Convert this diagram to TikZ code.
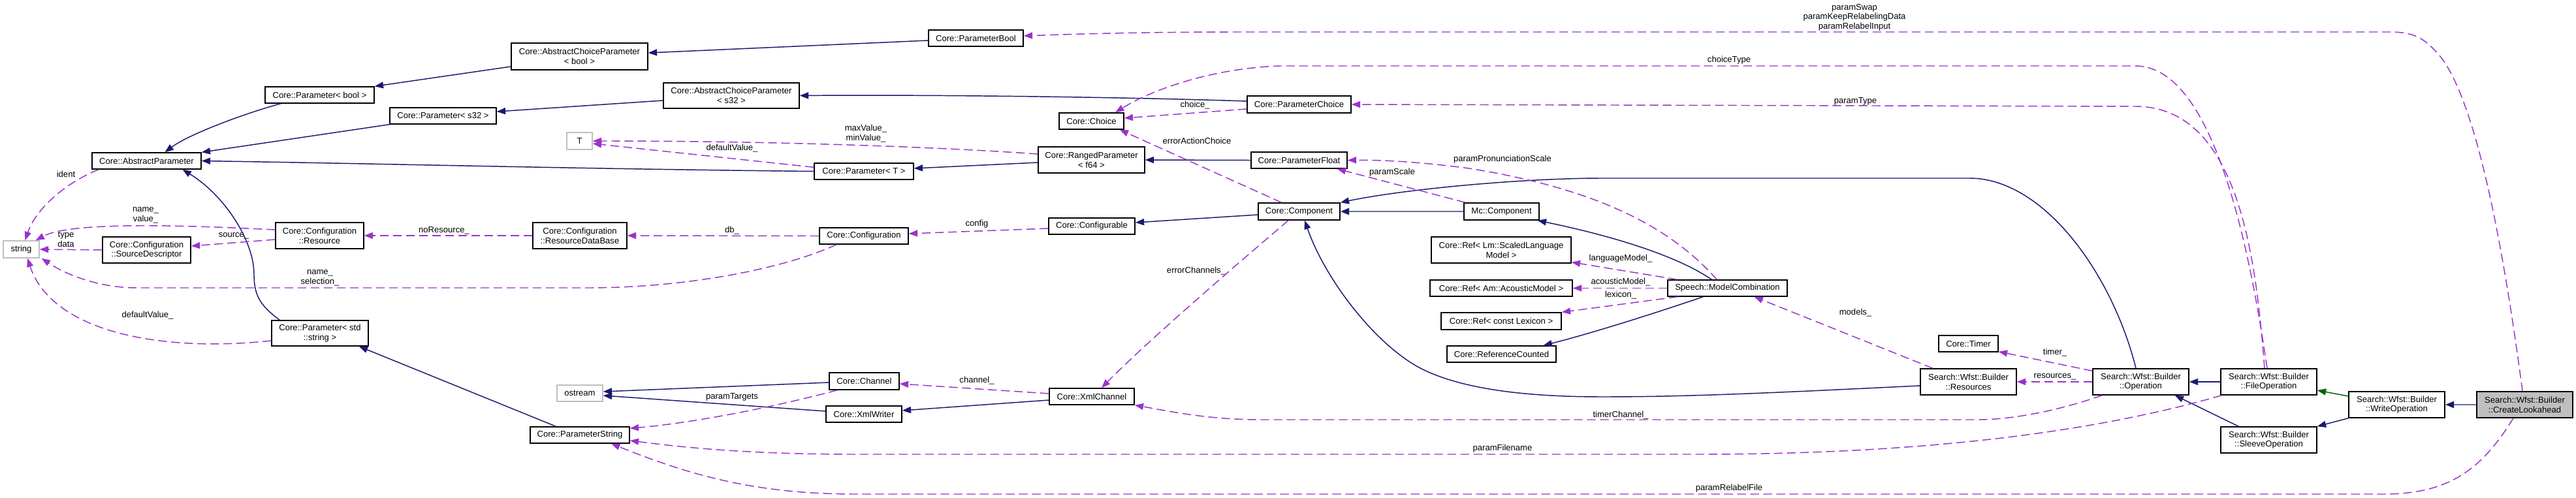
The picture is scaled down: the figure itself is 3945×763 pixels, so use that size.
\documentclass[tikz,border=0pt]{standalone}
\usepackage{fontspec}
\setmainfont{Liberation Sans}
\usetikzlibrary{arrows.meta,calc}
\definecolor{inhc}{HTML}{191970}
\definecolor{usec}{HTML}{9A32CD}
\definecolor{grnc}{HTML}{006400}
\definecolor{grayb}{HTML}{BFBFBF}
\newcommand\cbox[7]{\node[#1, minimum width={(#5-#3)*0.75pt}, minimum height={(#6-#4)*0.75pt}] (#2) at ({(#3+#5)/2},{(#4+#6)/2}) {#7};}
\begin{document}
\begin{tikzpicture}[x=0.75pt,y=-0.75pt,
  every node/.style={font=\fontsize{9.8}{11}\selectfont, inner sep=0pt, align=center},
  cls/.style={draw=black, line width=1.1pt, fill=white},
  ext/.style={draw=grayb, line width=1.1pt, fill=white},
  cur/.style={draw=black, line width=1.1pt, fill=grayb},
  inh/.style={draw=inhc, line width=1.1pt, -{Triangle[length=10pt,width=7.5pt]}},
  inhb/.style={draw=inhc!65!white, line width=2pt, -{Triangle[length=10pt,width=7.5pt,color=inhc]}},
  prot/.style={draw=grnc, line width=1.1pt, -{Triangle[length=10pt,width=7.5pt]}},
  use/.style={draw=usec, line width=1.1pt, dash pattern=on 10pt off 5pt, -{Triangle[length=10pt,width=7.5pt]}},
  lbl/.style={}]
\fill[white] (0,0) rectangle (3945,763);
\useasboundingbox (0,0) rectangle (3945,763);

\cbox{cls}{pbool}{406}{133}{573}{158}{Core::Parameter< bool >}
\cbox{cls}{absp}{141}{234}{308}{259}{Core::AbstractParameter}
\cbox{ext}{str}{5}{369}{60}{395}{string}
\cbox{cls}{res}{422}{341}{557}{381}{Core::Configuration\\::Resource}
\cbox{cls}{srcd}{157}{363}{292}{403}{Core::Configuration\\::SourceDescriptor}
\cbox{cls}{pstd}{416}{491}{564}{530}{Core::Parameter< std\\::string >}
\cbox{cls}{acpb}{783}{66}{992}{107}{Core::AbstractChoiceParameter\\< bool >}
\cbox{cls}{acps}{1016}{127}{1224}{166}{Core::AbstractChoiceParameter\\< s32 >}
\cbox{cls}{ps32}{597}{165}{760}{190}{Core::Parameter< s32 >}
\cbox{ext}{tt}{868}{203}{907}{229}{T}
\cbox{cls}{pT}{1247}{250}{1399}{275}{Core::Parameter< T >}
\cbox{cls}{rdb}{816}{341}{960}{381}{Core::Configuration\\::ResourceDataBase}
\cbox{cls}{conf}{1255}{349}{1391}{374}{Core::Configuration}
\cbox{ext}{ostr}{853}{590}{923}{615}{ostream}
\cbox{cls}{pstr}{812}{654}{964}{679}{Core::ParameterString}
\cbox{cls}{chan}{1270}{571}{1377}{597}{Core::Channel}
\cbox{cls}{xmlw}{1265}{622}{1381}{647}{Core::XmlWriter}
\cbox{cls}{pbc}{1422}{46}{1567}{71}{Core::ParameterBool}
\cbox{cls}{choice}{1622}{173}{1721}{198}{Core::Choice}
\cbox{cls}{ranged}{1590}{225}{1753}{265}{Core::RangedParameter\\< f64 >}
\cbox{cls}{cfgbl}{1606}{334}{1738}{359}{Core::Configurable}
\cbox{cls}{pchoice}{1910}{147}{2069}{173}{Core::ParameterChoice}
\cbox{cls}{pfloat}{1916}{233}{2063}{258}{Core::ParameterFloat}
\cbox{cls}{comp}{1927}{311}{2052}{337}{Core::Component}
\cbox{cls}{xmlc}{1607}{595}{1737}{620}{Core::XmlChannel}
\cbox{cls}{mccomp}{2242}{311}{2357}{337}{Mc::Component}
\cbox{cls}{reflm}{2192}{363}{2406}{403}{Core::Ref< Lm::ScaledLanguage\\Model >}
\cbox{cls}{refam}{2190}{429}{2408}{454}{Core::Ref< Am::AcousticModel >}
\cbox{cls}{reflex}{2207}{479}{2391}{505}{Core::Ref< const Lexicon >}
\cbox{cls}{refcnt}{2216}{530}{2383}{555}{Core::ReferenceCounted}
\cbox{cls}{mcomb}{2554}{429}{2737}{454}{Speech::ModelCombination}
\cbox{cls}{timer}{2969}{514}{3060}{539}{Core::Timer}
\cbox{cls}{resrc}{2941}{565}{3088}{605}{Search::Wfst::Builder\\::Resources}
\cbox{cls}{oper}{3205}{565}{3352}{605}{Search::Wfst::Builder\\::Operation}
\cbox{cls}{fileop}{3401}{565}{3548}{605}{Search::Wfst::Builder\\::FileOperation}
\cbox{cls}{sleeve}{3401}{654}{3548}{694}{Search::Wfst::Builder\\::SleeveOperation}
\cbox{cls}{writeop}{3597}{600}{3744}{640}{Search::Wfst::Builder\\::WriteOperation}
\cbox{cur}{clook}{3793}{600}{3940}{640}{Search::Wfst::Builder\\::CreateLookahead}

% labels
\node[lbl] (L1) at (101,267) {ident};
\node[lbl] (L2) at (223,330) {name\_\\value\_};
\node[lbl] (L3) at (101,367) {type\\data};
\node[lbl] (L4) at (358,361) {source\_};
\node[lbl] (L5) at (490,425.5) {name\_\\selection\_};
\node[lbl] (L6) at (226,483) {defaultValue\_};
\node[lbl] (L7) at (680,353) {noResource\_};
\node[lbl] (L8) at (1121,353) {db\_};
\node[lbl] (L9) at (1496,343) {config};
\node[lbl] (L10) at (1326,204.5) {maxValue\_\\minValue\_};
\node[lbl] (L11) at (1121,227) {defaultValue\_};
\node[lbl] (L12) at (1830,161) {choice\_};
\node[lbl] (L13) at (1833,216) {errorActionChoice};
\node[lbl] (L14) at (1832,415) {errorChannels\_};
\node[lbl] (L15) at (1496,583) {channel\_};
\node[lbl] (L16) at (1121,608) {paramTargets};
\node[lbl] (L17) at (2132,264) {paramScale};
\node[lbl] (L18) at (2301,244) {paramPronunciationScale};
\node[lbl] (L19) at (2482,396) {languageModel\_};
\node[lbl] (L20) at (2482,432) {acousticModel\_};
\node[lbl] (L21) at (2482,452) {lexicon\_};
\node[lbl] (L22) at (2482,636) {timerChannel\_};
\node[lbl] (L23) at (2301,687) {paramFilename};
\node[lbl] (L24) at (2841.5,479) {models\_};
\node[lbl] (L25) at (3147,540) {timer\_};
\node[lbl] (L26) at (3147,577) {resources\_};
\node[lbl] (L27) at (2648,748) {paramRelabelFile};
\node[lbl] (L28) at (2840,26.5) {paramSwap\\paramKeepRelabelingData\\paramRelabelInput};
\node[lbl] (L29) at (2648,92) {choiceType};
\node[lbl] (L30) at (2841.5,155) {paramType};

% inheritance
\draw[inh] ($(pbool.south west)+(25,0)$) .. controls (380,172) and (290,205) .. ($(absp.north)+(28,0)$);
\draw[inh] (ps32.south west) -- (absp.north east);
\draw[inh] (pT.west) .. controls (900,259) and (600,251) .. (absp.east);
\draw[inh] ($(pstd.north west)+(13,0)$) .. controls (398,468) and (389,452) .. (389,420) .. controls (389,370) and (345,300) .. ($(absp.south)+(55,0)$);
\draw[inh] ($(pstr.north west)+(40,0)$) -- ($(pstd.south east)+(-15,0)$);
\draw[inh] ($(acpb.west)+(0,15.5)$) -- (pbool.north east);
\draw[inh] ($(pbc.west)+(0,3.5)$) -- ($(acpb.east)+(0,-5.5)$);
\draw[inh] ($(acps.west)+(0,7.5)$) -- ($(ps32.east)+(0,-6.5)$);
\draw[inh] ($(pchoice.west)+(0,-5)$) .. controls (1700,148) and (1400,145) .. (acps.east);
\draw[inh] ($(ranged.west)+(0,4)$) -- ($(pT.east)+(0,-4.5)$);
\draw[inh] (pfloat.west) -- (ranged.east);
\draw[inh] ($(comp.west)+(0,5)$) -- ($(cfgbl.east)+(0,-5.5)$);
\draw[inhb] (mccomp.west) -- (comp.east);
\draw[inh] ($(mcomb.north west)+(68,0)$) .. controls (2580,400) and (2500,368) .. ($(mccomp.south east)+(-3,0)$);
\draw[inh] ($(mcomb.south west)+(55,0)$) .. controls (2540,478) and (2440,510) .. ($(refcnt.north)+(64,0)$);
\draw[inh] ($(resrc.west)+(0,6)$) .. controls (2750,600) and (2600,608) .. (2455,608) .. controls (2330,608) and (2240,595) .. (2181,567) .. controls (2110,533) and (2030,430) .. ($(comp.south)+(8.5,0)$);
\draw[inh] ($(oper.north)+(-7.5,0)$) .. controls (3235,420) and (3130,273) .. (3016,273) -- (2455,273) .. controls (2330,273) and (2150,290) .. (comp.north east);
\draw[inh] (fileop.west) -- (oper.east);
\draw[inh] ($(sleeve.north west)+(28,0)$) -- ($(oper.south east)+(-22,0)$);
\draw[prot] ($(writeop.west)+(0,-13)$) -- ($(fileop.east)+(0,13)$);
\draw[inh] (writeop.south west) -- (sleeve.north east);
\draw[inhb] (clook.west) -- (writeop.east);
\draw[inh] ($(chan.west)+(0,2)$) -- ($(ostr.east)+(0,-2.5)$);
\draw[inh] ($(xmlw.west)+(0,-4.5)$) -- ($(ostr.east)+(0,3.5)$);
\draw[inh] ($(xmlc.west)+(0,5.5)$) -- ($(xmlw.east)+(0,-5.5)$);

% usage
\draw[use] ($(absp.south west)+(11,0)$) .. controls (100,280) and (55,320) .. ($(str.north)+(6,0)$);
\draw[use] ($(res.west)+(0,-9)$) .. controls (300,346) and (110,338) .. ($(str.north east)+(-6,0)$);
\draw[use] (srcd.west) -- (str.east);
\draw[use] ($(res.west)+(0,6)$) -- ($(srcd.east)+(0,-6)$);
\draw[use] ($(conf.south)+(-42,0)$) .. controls (1200,412) and (1050,441) .. (900,441) -- (210,441) .. controls (150,441) and (100,420) .. ($(str.south east)+(3,0)$);
\draw[use] ($(pstd.west)+(0,11.5)$) .. controls (250,540) and (80,510) .. ($(str.south)+(9.5,0)$);
\draw[use] (rdb.west) -- (res.east);
\draw[use] (conf.west) -- (rdb.east);
\draw[use] ($(cfgbl.west)+(0,3.5)$) -- ($(conf.east)+(0,-3.5)$);
\draw[use] ($(ranged.west)+(0,-9)$) .. controls (1450,226) and (1200,216) .. (tt.east);
\draw[use] ($(pT.north west)+(0,7)$) -- ($(tt.east)+(0,4)$);
\draw[use] ($(pchoice.west)+(0,7)$) -- ($(choice.east)+(0,-4.5)$);
\draw[use] ($(comp.north)+(-27,0)$) -- ($(choice.south east)+(-7,0)$);
\draw[use] ($(comp.south)+(-16.5,0)$) .. controls (1900,400) and (1760,520) .. ($(xmlc.north)+(15,0)$);
\draw[use] ($(xmlc.west)+(0,-4.5)$) -- ($(chan.east)+(0,4)$);
\draw[use] ($(chan.south west)+(13,0)$) .. controls (1180,625) and (1060,648) .. ($(pstr.north east)+(0,3)$);
\draw[use] ($(mccomp.north west)+(3,0)$) -- ($(pfloat.south east)+(-16,0)$);
\draw[use] ($(mcomb.north west)+(76,0)$) .. controls (2560,350) and (2450,290) .. (2250,258) .. controls (2160,246) and (2100,245) .. (pfloat.east);
\draw[use] ($(mcomb.north west)+(15,0)$) -- ($(reflm.south east)+(0,-2)$);
\draw[use] (mcomb.west) -- (refam.east);
\draw[use] ($(mcomb.south west)+(16,0)$) -- (reflex.north east);
\draw[use] ($(resrc.north)+(-54.5,0)$) -- ($(mcomb.south)+(41,0)$);
\draw[use] ($(oper.north west)+(0,4)$) -- ($(timer.south east)+(0,-1)$);
\draw[use] (oper.west) -- (resrc.east);
\draw[use] ($(oper.south west)+(15,0)$) .. controls (3150,630) and (3080,643) .. (3029,643) -- (1931,643) .. controls (1850,643) and (1790,630) .. (xmlc.south east);
\draw[use] ($(fileop.south west)+(2,0)$) .. controls (3250,650) and (3000,696) .. (2600,696) -- (1310,696) .. controls (1150,696) and (1050,686) .. ($(pstr.east)+(0,8.5)$);
\draw[use] ($(clook.south)+(-17.5,0)$) .. controls (3800,720) and (3750,757) .. (3650,757) -- (1310,757) .. controls (1150,757) and (1050,725) .. ($(pstr.south)+(48,0)$);
\draw[use] ($(clook.north)+(-3.5,0)$) .. controls (3830,350) and (3790,160) .. (3740,90) .. controls (3715,60) and (3700,49) .. (3660,49) -- (1900,49) .. controls (1750,49) and (1650,52) .. ($(pbc.east)+(0,-3.5)$);
\draw[use] ($(fileop.north)+(-2.5,0)$) .. controls (3445,380) and (3390,101) .. (3270,101) -- (1960,101) .. controls (1850,105) and (1760,140) .. ($(choice.north)+(36.5,0)$);
\draw[use] ($(fileop.north)+(-6.5,0)$) .. controls (3455,400) and (3430,163) .. (3270,163) -- (pchoice.east);
\end{tikzpicture}
\end{document}
